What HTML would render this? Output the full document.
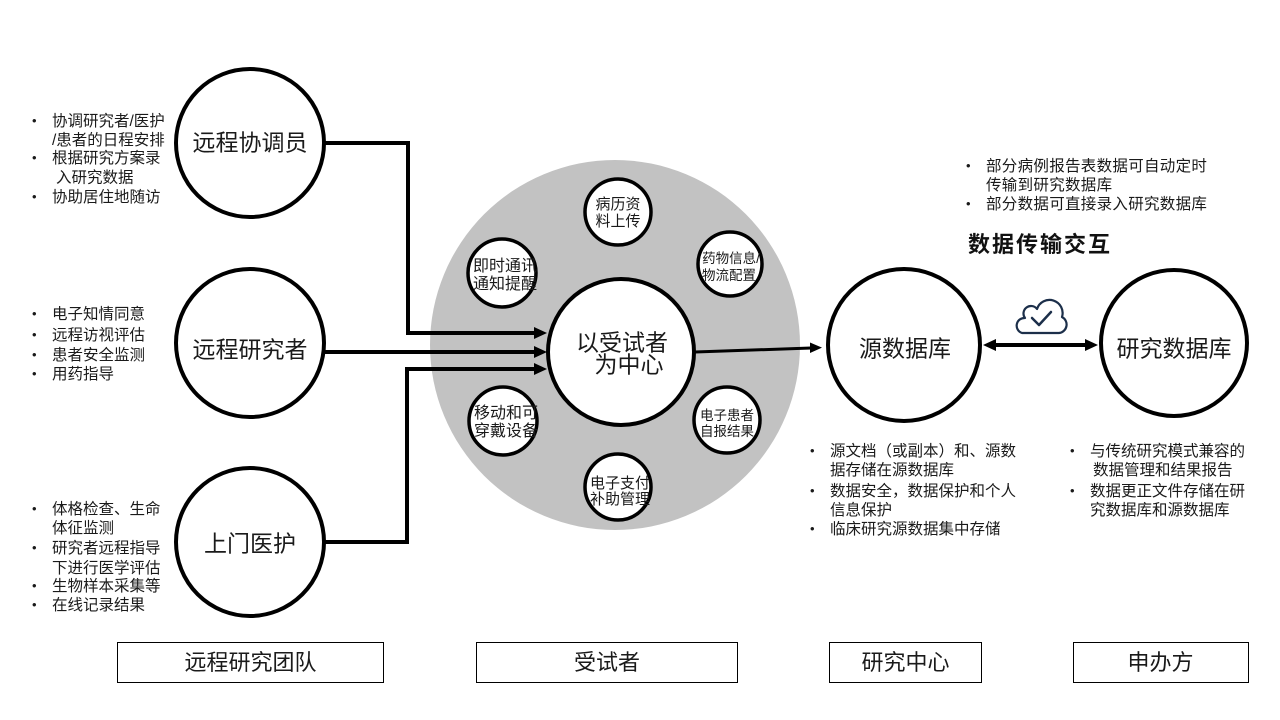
<!DOCTYPE html>
<html>
<head>
<meta charset="utf-8">
<style>
html,body{margin:0;padding:0;background:#fff;}
svg{display:block;}
text{font-family:"Liberation Sans","Noto Sans CJK SC",sans-serif;fill:#1a1a1a;}
.b{font-size:15.5px;}
.dot{font-size:13px;}
.L{font-size:23px;text-anchor:middle;}
.s{text-anchor:middle;}
</style>
</head>
<body>
<svg width="1280" height="720" viewBox="0 0 1280 720" xmlns="http://www.w3.org/2000/svg">
  <rect width="1280" height="720" fill="#fff"/>

  <!-- big gray circle -->
  <circle cx="615" cy="345" r="185" fill="#c2c2c2"/>

  <!-- left connectors -->
  <g fill="none" stroke="#000" stroke-width="4" stroke-linejoin="miter">
    <polyline points="325,143 408,143 408,333 537,333"/>
    <line x1="324" y1="352" x2="537" y2="352"/>
    <polyline points="325,542 407,542 407,369 537,369"/>
  </g>
  <g fill="#000">
    <polygon points="547,333 534,327 534,339"/>
    <polygon points="547,352 534,346 534,358"/>
    <polygon points="547,369 534,363 534,375"/>
  </g>

  <!-- left circles -->
  <g fill="#fff" stroke="#000" stroke-width="4">
    <circle cx="250" cy="143" r="74"/>
    <circle cx="250" cy="343" r="74"/>
    <circle cx="250" cy="542" r="74"/>
  </g>
  <text class="L" x="250" y="150.5">远程协调员</text>
  <text class="L" x="250" y="357.5">远程研究者</text>
  <text class="L" x="250" y="551.5">上门医护</text>

  <!-- left bullets group 1 -->
  <text class="dot" x="32" y="125">•</text>
  <text class="b" x="52" y="126">协调研究者/医护</text>
  <text class="b" x="52" y="145">/患者的日程安排</text>
  <text class="dot" x="32" y="162">•</text>
  <text class="b" x="52" y="163">根据研究方案录</text>
  <text class="b" x="56" y="182.5">入研究数据</text>
  <text class="dot" x="32" y="201">•</text>
  <text class="b" x="52" y="202">协助居住地随访</text>

  <!-- left bullets group 2 -->
  <text class="dot" x="32" y="318">•</text>
  <text class="b" x="52" y="319">电子知情同意</text>
  <text class="dot" x="32" y="339">•</text>
  <text class="b" x="52" y="340">远程访视评估</text>
  <text class="dot" x="32" y="359">•</text>
  <text class="b" x="52" y="360">患者安全监测</text>
  <text class="dot" x="32" y="378">•</text>
  <text class="b" x="52" y="379">用药指导</text>

  <!-- left bullets group 3 -->
  <text class="dot" x="32" y="513">•</text>
  <text class="b" x="52" y="514">体格检查、生命</text>
  <text class="b" x="52" y="533">体征监测</text>
  <text class="dot" x="32" y="552">•</text>
  <text class="b" x="52" y="553">研究者远程指导</text>
  <text class="b" x="52" y="573">下进行医学评估</text>
  <text class="dot" x="32" y="590">•</text>
  <text class="b" x="52" y="591">生物样本采集等</text>
  <text class="dot" x="32" y="609">•</text>
  <text class="b" x="52" y="610">在线记录结果</text>

  <!-- center small circles -->
  <g fill="#fff" stroke="#000" stroke-width="3.5">
    <circle cx="618" cy="212" r="33"/>
    <circle cx="730" cy="264" r="32"/>
    <circle cx="502" cy="273" r="34"/>
    <circle cx="503" cy="421" r="34"/>
    <circle cx="727" cy="420" r="33"/>
    <circle cx="618" cy="487" r="33"/>
  </g>
  <text class="s" x="618" y="209" style="font-size:15px">病历资</text>
  <text class="s" x="618" y="226" style="font-size:15px">料上传</text>
  <text class="s" x="731" y="263" style="font-size:13.5px">药物信息/</text>
  <text class="s" x="729" y="280" style="font-size:13.5px">物流配置</text>
  <text class="s" x="505" y="271" style="font-size:16px">即时通讯</text>
  <text class="s" x="505" y="289" style="font-size:16px">通知提醒</text>
  <text class="s" x="506" y="418" style="font-size:16px">移动和可</text>
  <text class="s" x="506" y="436" style="font-size:16px">穿戴设备</text>
  <text class="s" x="727" y="420" style="font-size:13.5px">电子患者</text>
  <text class="s" x="727" y="436" style="font-size:13.5px">自报结果</text>
  <text class="s" x="620" y="488" style="font-size:15px">电子支付</text>
  <text class="s" x="620" y="504" style="font-size:15px">补助管理</text>

  <!-- central circle -->
  <circle cx="621" cy="352" r="73" fill="#fff" stroke="#000" stroke-width="4"/>
  <text class="L" x="622" y="350.5">以受试者</text>
  <text class="L" x="629" y="372.5">为中心</text>

  <!-- arrow to source db -->
  <line x1="695" y1="352" x2="811" y2="348" stroke="#000" stroke-width="3"/>
  <polygon points="822,347.6 810,342.5 810,353" fill="#000"/>

  <!-- source db & research db -->
  <g fill="#fff" stroke="#000" stroke-width="4">
    <circle cx="904" cy="345" r="76"/>
    <circle cx="1174" cy="343" r="73"/>
  </g>
  <text class="L" x="905" y="356.5">源数据库</text>
  <text class="L" x="1174" y="356.5">研究数据库</text>

  <!-- double arrow -->
  <line x1="994" y1="345" x2="1087" y2="345" stroke="#000" stroke-width="4"/>
  <polygon points="983,345 996,339 996,351" fill="#000"/>
  <polygon points="1098,345 1085,339 1085,351" fill="#000"/>

  <!-- cloud icon -->
  <path d="M1022,333 H1059 A8.5,8.5 0 0 0 1062,317 A13,13 0 0 0 1037,309 A7,7 0 0 0 1025,318 A7.7,7.7 0 0 0 1022,333 Z"
        fill="none" stroke="#1c2f4a" stroke-width="2.2" stroke-linejoin="round"/>
  <polyline points="1032,318 1039,325 1051,312" fill="none" stroke="#1c2f4a" stroke-width="2.5" stroke-linecap="round" stroke-linejoin="round"/>

  <!-- title -->
  <text x="968" y="252" style="font-size:22px;font-weight:bold;letter-spacing:2px;fill:#111">数据传输交互</text>

  <!-- top-right bullets -->
  <text class="dot" x="966" y="170">•</text>
  <text class="b" x="986" y="171" style="letter-spacing:0.3px">部分病例报告表数据可自动定时</text>
  <text class="b" x="986" y="190" style="letter-spacing:0.3px">传输到研究数据库</text>
  <text class="dot" x="966" y="208">•</text>
  <text class="b" x="986" y="209" style="letter-spacing:0.3px">部分数据可直接录入研究数据库</text>

  <!-- bottom middle bullets -->
  <text class="dot" x="810" y="455">•</text>
  <text class="b" x="830" y="456">源文档（或副本）和、源数</text>
  <text class="b" x="830" y="475">据存储在源数据库</text>
  <text class="dot" x="810" y="495">•</text>
  <text class="b" x="830" y="496">数据安全，数据保护和个人</text>
  <text class="b" x="830" y="515">信息保护</text>
  <text class="dot" x="810" y="533">•</text>
  <text class="b" x="830" y="534">临床研究源数据集中存储</text>

  <!-- bottom right bullets -->
  <text class="dot" x="1070" y="455">•</text>
  <text class="b" x="1090" y="456">与传统研究模式兼容的</text>
  <text class="b" x="1093" y="475">数据管理和结果报告</text>
  <text class="dot" x="1070" y="495">•</text>
  <text class="b" x="1090" y="496">数据更正文件存储在研</text>
  <text class="b" x="1090" y="515">究数据库和源数据库</text>

  <!-- bottom boxes -->
  <g fill="none" stroke="#000" stroke-width="1">
    <rect x="117.5" y="642.5" width="266" height="40"/>
    <rect x="476.5" y="642.5" width="261" height="40"/>
    <rect x="829.5" y="642.5" width="152" height="40"/>
    <rect x="1073.5" y="642.5" width="175" height="40"/>
  </g>
  <text class="s" x="250.5" y="670" style="font-size:22px">远程研究团队</text>
  <text class="s" x="607" y="670" style="font-size:22px">受试者</text>
  <text class="s" x="905.5" y="670" style="font-size:22px">研究中心</text>
  <text class="s" x="1160.5" y="670" style="font-size:22px">申办方</text>
</svg>
</body>
</html>
